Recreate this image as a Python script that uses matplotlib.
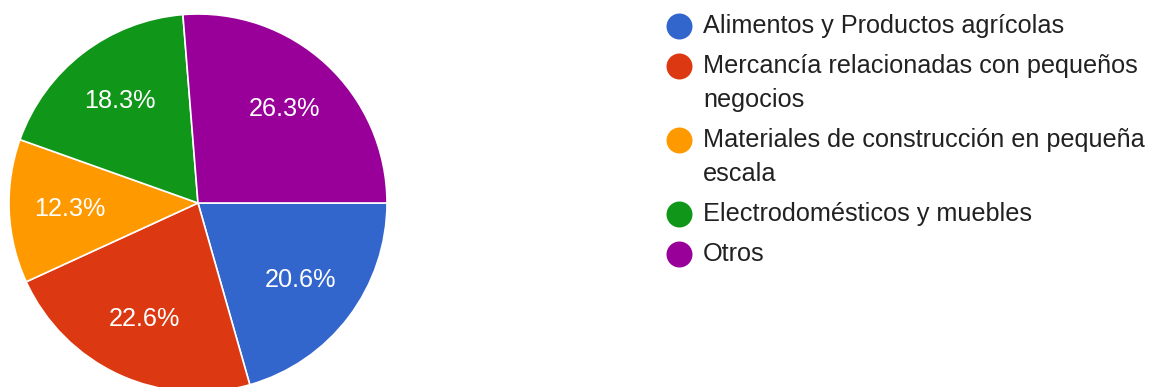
import matplotlib.pyplot as plt

labels = [
    "Alimentos y Productos agrícolas",
    "Mercancía relacionadas con pequeños\nnegocios",
    "Materiales de construcción en pequeña\nescala",
    "Electrodomésticos y muebles",
    "Otros",
]
shares = [20.6, 22.6, 12.3, 18.3, 26.3]
colors = ["#3366cc", "#dc3912", "#ff9900", "#109618", "#990099"]

plt.rcParams['font.family'] = ['Liberation Sans', 'DejaVu Sans']

W, H = 1160, 387
fig = plt.figure(figsize=(W / 100, H / 100), dpi=100)

# pie area, in pixels: centre (198, 203), radius 189
cx, cy, r = 198, 203, 189
ax = fig.add_axes([(cx - r) / W, (H - cy - r) / H, 2 * r / W, 2 * r / H])
wedges, texts, autotexts = ax.pie(
    shares,
    colors=colors,
    startangle=0,
    counterclock=False,
    autopct="%.1f%%",
    pctdistance=0.677,
    wedgeprops=dict(edgecolor="white", linewidth=1.2),
    textprops=dict(color="white", fontsize=18.2),
)
ax.set_xlim(-1, 1)
ax.set_ylim(-1, 1)
ax.set_aspect("equal")

# legend drawn by hand so wrapped lines sit like the original
lax = fig.add_axes([0, 0, 1, 1])
lax.set_xlim(0, W)
lax.set_ylim(H, 0)
lax.axis("off")

y = 26
for lab, col in zip(labels, colors):
    lax.scatter([679], [y], s=350, color=col, linewidths=0)
    lines = lab.split("\n")
    for i, line in enumerate(lines):
        lax.text(703, y + i * 34, line, fontsize=18.2, color="#212121",
                 va="center", ha="left")
    y += 34 * (len(lines) - 1) + 40

fig.savefig("out.png", dpi=100)
